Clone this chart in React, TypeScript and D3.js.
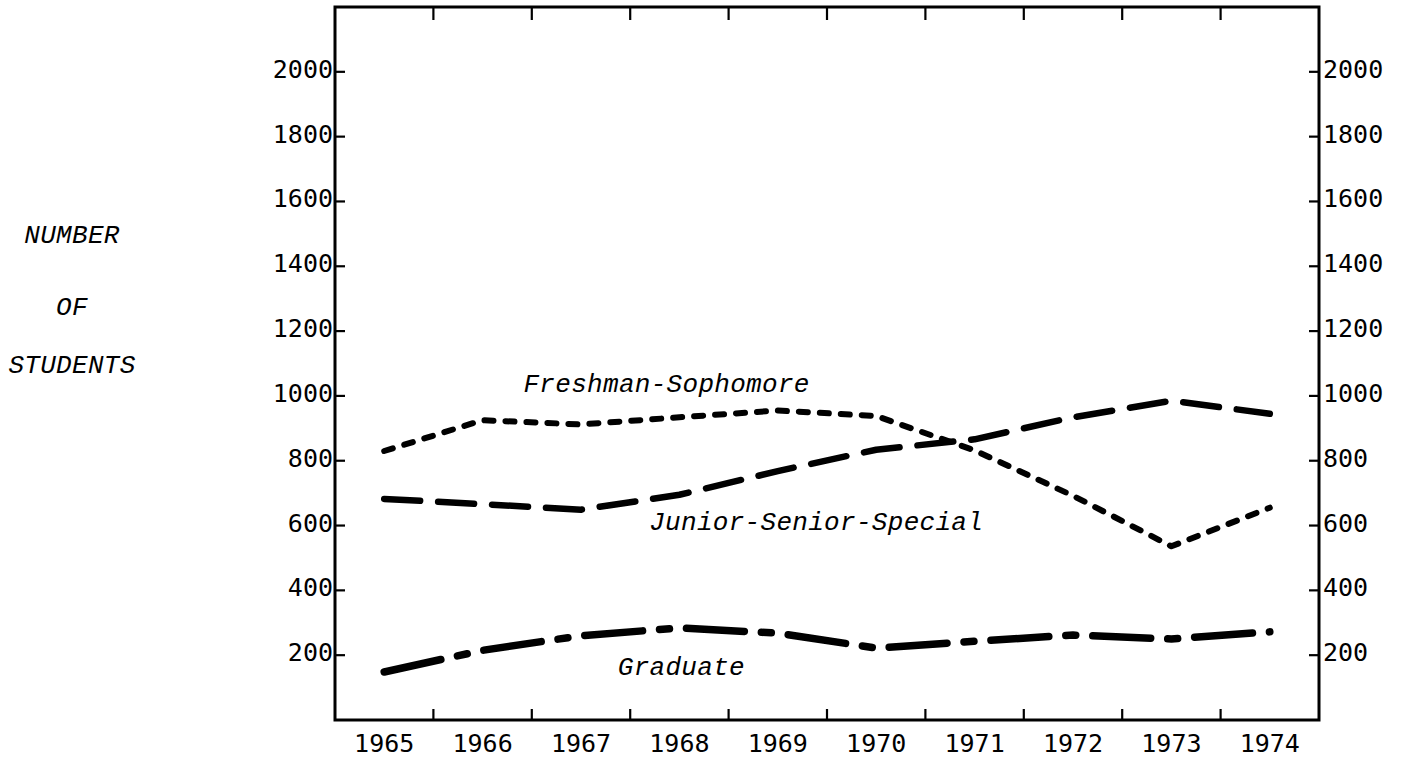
import React from 'react';
import * as d3 from 'd3';

// enrolment by class level
const years = ['1965', '1966', '1967', '1968', '1969', '1970', '1971', '1972', '1973', '1974'];
const freshmanSophomore = [830, 925, 912, 934, 955, 938, 832, 692, 536, 655];
const juniorSeniorSpecial = [682, 666, 649, 695, 768, 834, 866, 934, 985, 945];
const graduate = [148, 215, 260, 284, 268, 222, 243, 262, 250, 272];
const yTicks = [200, 400, 600, 800, 1000, 1200, 1400, 1600, 1800, 2000];
const yTitle = ['NUMBER', 'OF', 'STUDENTS'];

const W = 1403;
const H = 759;
const plot = { left: 335, right: 1319, top: 7, bottom: 720 };

const typewriter = { fontFamily: '"Liberation Mono", monospace', fontStyle: 'italic', fontSize: 26, letterSpacing: 0.3 };
const tickFont = { fontFamily: '"DejaVu Sans Mono", monospace', fontSize: 25 };

const App = () => {
  const x = d3.scaleBand<string>().domain(years).range([plot.left, plot.right]);
  const y = d3.scaleLinear().domain([0, 2200]).range([plot.bottom, plot.top]);
  // fractional year -> band centre, for placing the typed labels
  const xYear = d3.scaleLinear()
    .domain([1965, 1974])
    .range([x('1965')! + x.bandwidth() / 2, x('1974')! + x.bandwidth() / 2]);

  const line = d3.line<number>()
    .x((_, i) => x(years[i])! + x.bandwidth() / 2)
    .y(d => y(d));

  const series = [
    { name: 'Freshman-Sophomore', values: freshmanSophomore, width: 6, dash: '9 12', label: [1967.87, 1013] },
    { name: 'Junior-Senior-Special', values: juniorSeniorSpecial, width: 6.5, dash: '36 18', label: [1969.39, 587] },
    { name: 'Graduate', values: graduate, width: 7.5, dash: '58 17 10 17', label: [1968.02, 139] },
  ];

  const bounds = years.slice(1).map(yr => x(yr)!);

  return (
    <svg width={W} height={H} style={{ position: 'absolute', left: 0, top: 0, background: '#fff' }}>
      {/* frame */}
      <rect x={plot.left} y={plot.top} width={plot.right - plot.left} height={plot.bottom - plot.top}
        fill="none" stroke="#000" strokeWidth={3} />

      {/* x ticks: on the band boundaries, top and bottom */}
      {bounds.map((bx, i) => (
        <g key={i} stroke="#000" strokeWidth={2.2}>
          <line x1={bx} x2={bx} y1={plot.bottom} y2={plot.bottom - 11} />
          <line x1={bx} x2={bx} y1={plot.top} y2={plot.top + 13} />
        </g>
      ))}
      {years.map(yr => (
        <text key={yr} x={x(yr)! + x.bandwidth() / 2} y={752} textAnchor="middle" style={tickFont}>{yr}</text>
      ))}

      {/* y ticks both sides */}
      {yTicks.map(t => (
        <g key={t}>
          <line x1={plot.left} x2={plot.left + 10} y1={y(t)} y2={y(t)} stroke="#000" strokeWidth={2.2} />
          <line x1={plot.right} x2={plot.right - 10} y1={y(t)} y2={y(t)} stroke="#000" strokeWidth={2.2} />
          <text x={plot.left - 2} y={y(t) + 6} textAnchor="end" style={tickFont}>{t}</text>
          <text x={plot.right + 4} y={y(t) + 6} textAnchor="start" style={tickFont}>{t}</text>
        </g>
      ))}

      {/* axis title, typed on three lines */}
      {yTitle.map((s, i) => (
        <text key={s} x={72} y={[243, 315, 373][i]} textAnchor="middle" style={typewriter}>{s}</text>
      ))}

      {series.map(s => (
        <g key={s.name}>
          <path d={line(s.values)!} fill="none" stroke="#000" strokeWidth={s.width}
            strokeDasharray={s.dash} strokeLinecap="round" strokeLinejoin="round" />
          <text x={xYear(s.label[0])} y={y(s.label[1])} textAnchor="middle" style={typewriter}>{s.name}</text>
        </g>
      ))}
    </svg>
  );
};

export default App;
